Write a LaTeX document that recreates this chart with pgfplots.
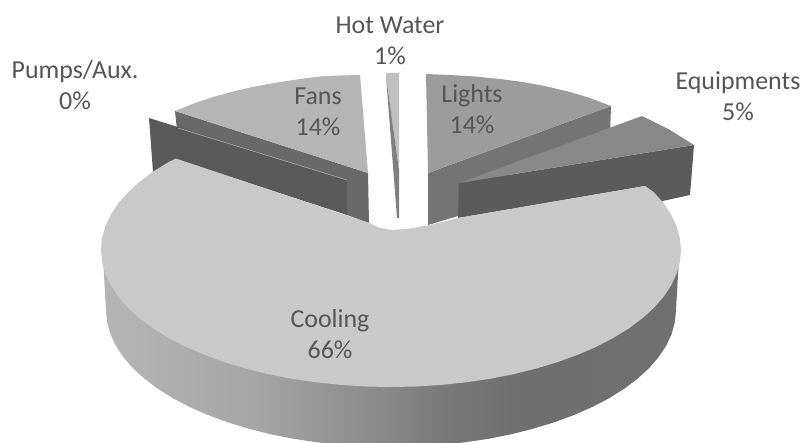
\documentclass[border=0pt]{standalone}
\usepackage{fontspec}
\setmainfont{Carlito}
\usepackage{pgfplots}
\pgfplotsset{compat=1.18}

\definecolor{coolingtop}{HTML}{C9C9C9}
\definecolor{fanstop}{HTML}{B5B5B5}
\definecolor{fanswall}{HTML}{696969}
\definecolor{pumpwall}{HTML}{5A5A5A}
\definecolor{lightstop}{HTML}{9C9C9C}
\definecolor{lightswall}{HTML}{747474}
\definecolor{equiptop}{HTML}{888888}
\definecolor{equipwall}{HTML}{5B5B5B}
\definecolor{watertop}{HTML}{C0C0C0}
\definecolor{waterwall}{HTML}{808080}
\definecolor{labeltext}{HTML}{555555}

% front wall of the big slice, light on the left, dark on the right
\pgfdeclarehorizontalshading{wallshade}{100bp}{
  rgb(0bp)=(0.71,0.71,0.71);
  rgb(25bp)=(0.71,0.71,0.71);
  rgb(38bp)=(0.65,0.65,0.65);
  rgb(49bp)=(0.54,0.54,0.54);
  rgb(55bp)=(0.47,0.47,0.47);
  rgb(61bp)=(0.435,0.435,0.435);
  rgb(75bp)=(0.44,0.44,0.44);
  rgb(100bp)=(0.44,0.44,0.44)}

\tikzset{lab/.style={font=\fontsize{26}{31}\selectfont, text=labeltext, align=center, inner sep=0pt}}

\begin{document}
\begin{tikzpicture}
\path[use as bounding box] (0,0) rectangle (803bp,443bp);
\begin{axis}[
    width=803bp, height=443bp,
    scale only axis,
    xmin=0, xmax=803,
    ymin=0, ymax=443,
    y dir=reverse,
    axis lines=none,
    clip=true,
]
% Lights
\addplot[fill=lightswall, draw=none] coordinates {(428,173) (611,106) (610,135) (470,190) (458,216) (428,225)};
\addplot[fill=lightstop, draw=none] coordinates {(426,74) (450,75) (475,76.5) (500,79) (523,82) (547,86.5) (570,92) (590,98) (611,106) (428,173)};
% Fans
\addplot[fill=fanswall, draw=none] coordinates {(175,111) (368,173) (369,223) (347,215) (177,130)};
\addplot[fill=fanstop, draw=none] coordinates {(360,75) (340,75.5) (320,76.5) (300,79) (277,82.5) (255,86.5) (233,91.5) (213,97) (195,103) (175,111) (368,173)};
% Hot Water
\addplot[fill=watertop, draw=none] coordinates {(386,73) (399,73) (399,170) (386,76)};
\addplot[fill=waterwall, draw=none] coordinates {(386,76) (399,170) (399,218) (397,218)};
% Equipments
\addplot[fill=equipwall, draw=none] coordinates {(459,183) (694,145) (690,195) (658,202) (645,186) (458,218)};
\addplot[fill=equiptop, draw=none] coordinates {(459,183) (642,116) (670,130) (694,145)};
% Pumps/Aux.
\addplot[fill=pumpwall, draw=none] coordinates {(149,118) (347,180) (347,215) (178,160) (158,172) (153,172)};
\addplot[draw=coolingtop, line width=0.4pt] coordinates {(178,128) (347,180)};
% Cooling, wall
\addplot[shade, shading=wallshade, draw=none] coordinates {
  (680,240) (676,310) (674.9,321.9) (671.7,333.8) (666.3,345.5) (658.8,356.9) (649.3,367.9)
  (637.8,378.5) (624.4,388.6) (609.3,398.1) (592.5,406.9) (574.3,414.9) (554.6,422.2)
  (533.5,428.6) (511.6,434.2) (488.5,438.8) (464.8,442.3) (440.6,444.9) (415.8,446.5)
  (391,447) (366.2,446.5) (341.4,444.9) (317.2,442.3) (293.5,438.8) (270.4,434.2)
  (248.5,428.6) (227.4,422.2) (207.7,414.9) (189.5,406.9) (172.7,398.1) (157.6,388.6)
  (144.2,378.5) (132.7,367.9) (123.2,356.9) (115.7,345.5) (110.3,333.8) (107.1,321.9)
  (106,310) (102,240)};
% Cooling, top
\addplot[fill=coolingtop, draw=none] coordinates {
  (645,186) (653.8,192.1) (663.5,203.1) (671.1,214.5) (676.6,226.2) (679.9,238.1) (681,250)
  (679.9,261.9) (676.6,273.8) (671.1,285.5) (663.5,296.9) (653.8,307.9) (642.1,318.5)
  (628.5,328.6) (613.1,338.1) (596.1,346.9) (577.4,354.9) (557.3,362.2) (536,368.6)
  (513.6,374.2) (490.2,378.8) (466.1,382.3) (441.4,384.9) (416.3,386.5) (391,387)
  (365.7,386.5) (340.6,384.9) (315.9,382.3) (291.8,378.8) (268.4,374.2) (246,368.6)
  (224.7,362.2) (204.6,354.9) (185.9,346.9) (168.9,338.1) (153.5,328.6) (139.9,318.5)
  (128.2,307.9) (118.5,296.9) (110.9,285.5) (105.4,273.8) (102.1,261.9) (101,250)
  (102.1,238.1) (105.4,226.2) (110.9,214.5) (118.5,203.1) (128.2,192.1) (139.9,181.5)
  (153.5,171.4) (168.9,161.9) (176,158.5) (369,223) (380,228) (392,230) (410,228.5)
  (430,225) (458,218)};
% labels
\node[lab] at (axis cs:390,41) {Hot Water\\1\%};
\node[lab] at (axis cs:75,85) {Pumps/Aux.\\0\%};
\node[lab] at (axis cs:318,112) {Fans\\14\%};
\node[lab] at (axis cs:472,109) {Lights\\14\%};
\node[lab] at (axis cs:738,96) {Equipments\\5\%};
\node[lab] at (axis cs:330,334) {Cooling\\66\%};
\end{axis}
\end{tikzpicture}
\end{document}
